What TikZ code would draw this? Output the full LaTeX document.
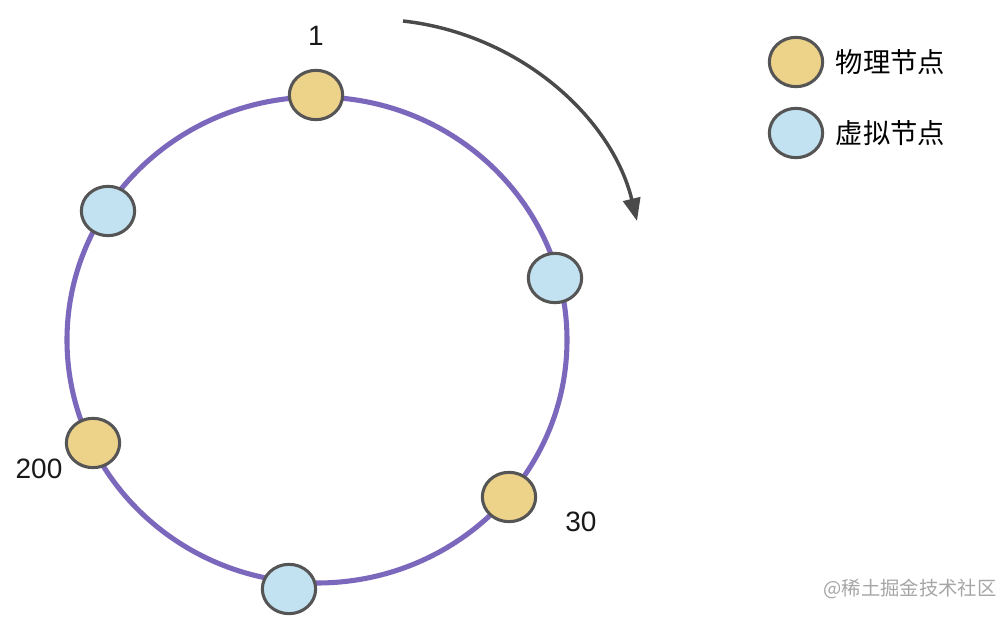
\documentclass[tikz,border=0pt]{standalone}
\usepackage{fontspec}
\setmainfont{Liberation Sans}
\newfontfamily\cjk{Noto Sans CJK SC}
\usepackage{xcolor}
\usepackage{tikz}
\usetikzlibrary{shapes.geometric, arrows.meta}

\definecolor{ringpurple}{HTML}{7B68BC}
\definecolor{physfill}{HTML}{EDD28A}
\definecolor{virtfill}{HTML}{C3E2F1}
\definecolor{nodeedge}{HTML}{555555}
\definecolor{arrowgray}{HTML}{4A4A4A}

\begin{document}
\begin{tikzpicture}[x=0.75pt, y=-0.75pt,
  physnode/.style={ellipse, draw=nodeedge, line width=2.3pt, fill=physfill, minimum width=40pt, minimum height=37pt, inner sep=0pt},
  virtnode/.style={ellipse, draw=nodeedge, line width=2.3pt, fill=virtfill, minimum width=40pt, minimum height=37pt, inner sep=0pt},
  numlabel/.style={font=\fontsize{21}{24}\selectfont, text=black!90}]
  \useasboundingbox[fill=white] (0,0) rectangle (1008,617);

  % Hash ring
  \draw[ringpurple, line width=3.8pt] (317,340) ellipse [x radius=250, y radius=243];

  % Nodes on the ring
  \node[physnode] (p1) at (316,95) {};
  \node[virtnode] (v1) at (108,211) {};
  \node[virtnode] (v2) at (555,278) {};
  \node[physnode] (p200) at (93,443) {};
  \node[physnode] (p30) at (509,497) {};
  \node[virtnode] (v3) at (289,589) {};

  % Position labels
  \node[numlabel] (l1) at (316,36) {1};
  \node[numlabel] (l200) at (39,469) {200};
  \node[numlabel] (l30) at (581,522) {30};

  % Direction
  \coordinate (arrowstart) at (403,21);
  \coordinate (arrowend) at (637,221);
  \draw[arrowgray, line width=2.6pt, -{Triangle[length=17pt, width=13pt]}]
    (arrowstart) .. controls (520,34) and (612,118) .. (arrowend);

  % Legend
  \node[physnode] (legphys) at (796,62) {};
  \node[anchor=west, font=\cjk\fontsize{20.5}{24}\selectfont] (legphystext) at (831,62) {物理节点};
  \node[virtnode] (legvirt) at (796,133) {};
  \node[anchor=west, font=\cjk\fontsize{20.5}{24}\selectfont] (legvirttext) at (831,133) {虚拟节点};

  % Watermark
  \node[font=\cjk\fontsize{14.5}{16}\selectfont, text=black!35] (mark) at (910,589) {@稀土掘金技术社区};
\end{tikzpicture}
\end{document}
